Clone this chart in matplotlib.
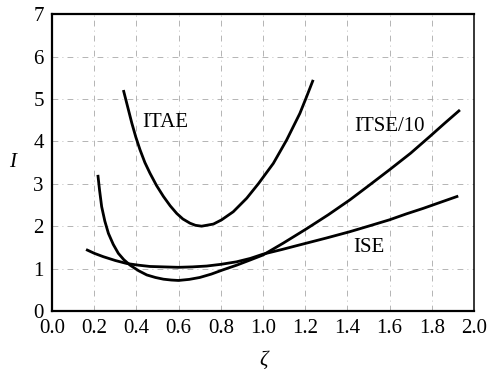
import matplotlib
matplotlib.use("Agg")
import matplotlib.pyplot as plt

# performance index I versus damping ratio zeta
itae_zeta = [0.338, 0.358, 0.378, 0.397, 0.417, 0.44, 0.464, 0.495, 0.528, 0.56,
             0.591, 0.62, 0.654, 0.68, 0.709, 0.765, 0.804, 0.859, 0.923, 0.978,
             1.049, 1.112, 1.175, 1.205, 1.238]
itae_val = [5.21, 4.82, 4.43, 4.10, 3.80, 3.50, 3.25, 2.96, 2.70, 2.48,
            2.30, 2.17, 2.07, 2.02, 2.00, 2.05, 2.15, 2.34, 2.66, 3.00,
            3.48, 4.03, 4.66, 5.03, 5.45]

itse_zeta = [0.217, 0.225, 0.235, 0.25, 0.267, 0.29, 0.314, 0.34, 0.37, 0.41,
             0.449, 0.49, 0.528, 0.565, 0.599, 0.65, 0.70, 0.755, 0.81, 0.875,
             0.938, 1.0, 1.096, 1.207, 1.31, 1.412, 1.50, 1.60, 1.70, 1.79,
             1.86, 1.934]
itse_val = [3.21, 2.85, 2.46, 2.12, 1.83, 1.57, 1.36, 1.21, 1.08, 0.95,
            0.85, 0.79, 0.75, 0.73, 0.72, 0.745, 0.79, 0.87, 0.97, 1.08,
            1.20, 1.32, 1.60, 1.94, 2.27, 2.62, 2.95, 3.33, 3.72, 4.11,
            4.42, 4.74]

ise_zeta = [0.161, 0.20, 0.243, 0.30, 0.354, 0.41, 0.464, 0.53, 0.599, 0.665,
            0.733, 0.80, 0.875, 0.94, 1.0, 1.09, 1.175, 1.30, 1.412, 1.50,
            1.60, 1.68, 1.76, 1.84, 1.926]
ise_val = [1.45, 1.36, 1.28, 1.19, 1.12, 1.08, 1.05, 1.04, 1.03, 1.04,
           1.06, 1.10, 1.16, 1.24, 1.34, 1.45, 1.56, 1.72, 1.87, 2.00,
           2.15, 2.29, 2.42, 2.56, 2.71]

x_ticks = [0.0, 0.2, 0.4, 0.6, 0.8, 1.0, 1.2, 1.4, 1.6, 1.8, 2.0]
y_ticks = [0, 1, 2, 3, 4, 5, 6, 7]

plt.rcParams["font.family"] = ["Liberation Serif", "DejaVu Serif"]

fig = plt.figure(figsize=(4.87, 3.72), dpi=100)
ax = fig.add_axes([0.107, 0.164, 0.866, 0.798])

for z, v in [(itae_zeta, itae_val), (itse_zeta, itse_val), (ise_zeta, ise_val)]:
    ax.plot(z, v, color="black", lw=2.0, solid_capstyle="butt",
            solid_joinstyle="round")

ax.text(0.536, 4.45, "ITAE", fontsize=15, ha="center", va="center")
ax.text(1.60, 4.36, "ITSE/10", fontsize=15, ha="center", va="center")
ax.text(1.50, 1.50, "ISE", fontsize=15, ha="center", va="center")

ax.set_xlim(0, 2.0)
ax.set_ylim(0, 7)
ax.set_xticks(x_ticks)
ax.set_yticks(y_ticks)
ax.set_xticklabels([f"{t:.1f}" for t in x_ticks])
ax.tick_params(length=0, labelsize=15, pad=6)
ax.grid(True, color="#a8a8a8", lw=0.6, linestyle=(0, (7, 5, 1, 5)))

for side in ["left", "bottom", "top"]:
    ax.spines[side].set_linewidth(1.6)
ax.spines["right"].set_linewidth(1.1)

fig.text(13 / 487, 1 - 162 / 372, "I", fontsize=15, style="italic",
         ha="center", va="center")
fig.text(264 / 487, 1 - 360 / 372, "ζ", fontsize=15, style="italic",
         ha="center", va="center")

fig.savefig("out.png", dpi=100)
